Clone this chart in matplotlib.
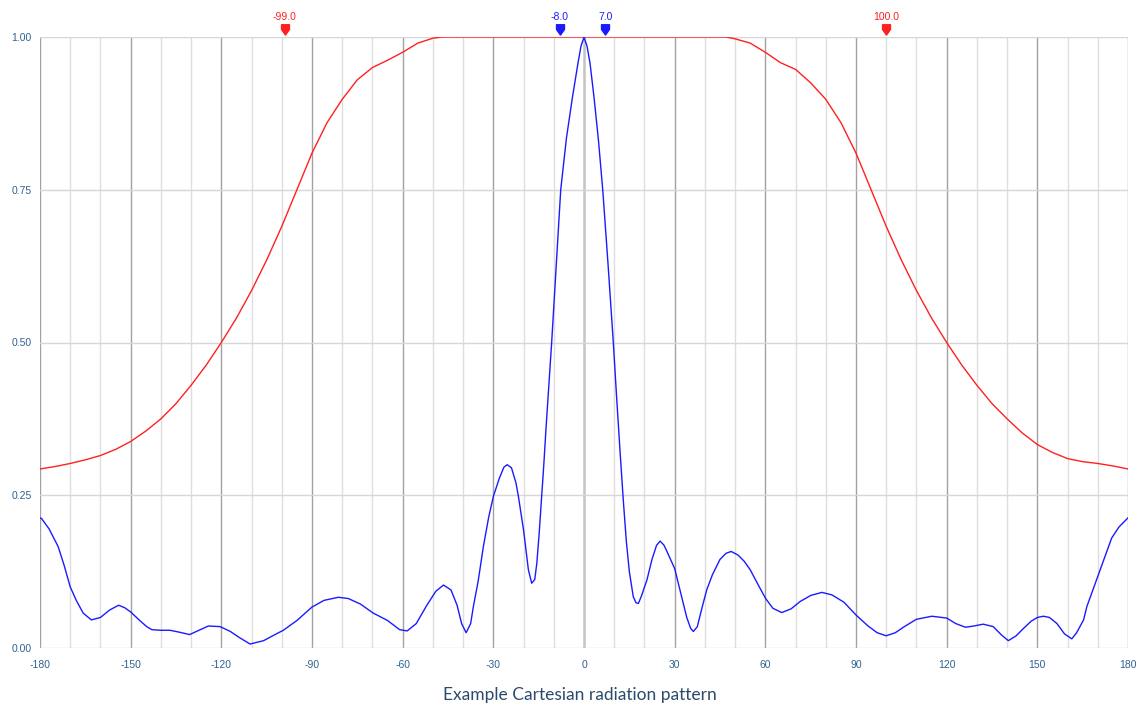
import matplotlib
matplotlib.use("Agg")
import matplotlib.pyplot as plt
from matplotlib.path import Path
from matplotlib.transforms import blended_transform_factory

# ---- data ----
blue_angle = [-180, -179.5, -177, -174, -172, -170, -168, -165.7, -163, -160, -157, -154, -152, -150,
              -147, -144.7, -143, -140, -137, -134, -130.5, -127, -124.3, -120.4, -117, -114, -110.5,
              -106, -103, -99.5, -95, -90, -86, -81.3, -78, -74, -69.7, -65, -61, -58.5, -55.5, -52,
              -49, -46.5, -44, -42, -40.5, -39, -37.5, -36.6, -35, -33.3, -31.5, -30, -28, -26.5,
              -25.4, -24, -22.5, -21.7, -20, -18.4, -17.3, -16.3, -15.6, -14.8, -14, -13.3, -12.6,
              -10.7, -9.2, -7.7, -5.8, -3.8, -2.0, -1.0, 0, 1.0, 2.0, 3.3, 4.8, 6.2, 8.0, 9.7, 10.8,
              11.9, 13.0, 14.0, 15.0, 16.3, 17.2, 18.0, 19.0, 20.8, 22.5, 24.0, 25.2, 26.5, 28.0,
              30.0, 32.0, 34.0, 35.3, 36.2, 37.5, 39.0, 40.6, 42.5, 45.0, 47.0, 48.7, 51.0, 53.0,
              55.0, 58.0, 60.1, 62.5, 65.4, 68.5, 71.5, 75.0, 78.7, 82.0, 86.0, 90.0, 94.0, 97.0,
              100.0, 103.0, 106.0, 110.0, 115.1, 120.0, 123.0, 126.2, 129.0, 132.1, 135.4, 138.0,
              140.4, 143.0, 145.4, 148.0, 150.0, 152.0, 154.0, 156.5, 159.0, 161.4, 163.0, 165.3,
              166.4, 168.0, 170.0, 172.4, 174.6, 177.0, 179.6, 180.0]
blue_value = [0.213, 0.212, 0.195, 0.166, 0.135, 0.100, 0.078, 0.057, 0.046, 0.050, 0.062, 0.070, 0.066,
              0.059, 0.045, 0.035, 0.030, 0.029, 0.029, 0.026, 0.022, 0.030, 0.036, 0.035, 0.027, 0.017,
              0.0065, 0.012, 0.020, 0.029, 0.045, 0.067, 0.078, 0.083, 0.081, 0.072, 0.057, 0.045, 0.030,
              0.028, 0.040, 0.070, 0.093, 0.103, 0.095, 0.070, 0.040, 0.025, 0.040, 0.068, 0.110, 0.166,
              0.215, 0.248, 0.278, 0.296, 0.300, 0.295, 0.270, 0.248, 0.193, 0.128, 0.106, 0.112, 0.139,
              0.190, 0.248, 0.300, 0.357, 0.500, 0.625, 0.750, 0.835, 0.902, 0.957, 0.985, 1.0, 0.985,
              0.957, 0.902, 0.830, 0.750, 0.625, 0.500, 0.410, 0.324, 0.242, 0.175, 0.125, 0.084, 0.074,
              0.073, 0.085, 0.111, 0.145, 0.168, 0.175, 0.168, 0.152, 0.130, 0.090, 0.050, 0.032, 0.027,
              0.035, 0.065, 0.095, 0.120, 0.145, 0.155, 0.158, 0.152, 0.142, 0.128, 0.100, 0.081, 0.065,
              0.058, 0.064, 0.076, 0.086, 0.091, 0.087, 0.075, 0.054, 0.036, 0.025, 0.020, 0.025, 0.035,
              0.047, 0.052, 0.049, 0.040, 0.034, 0.036, 0.039, 0.035, 0.022, 0.012, 0.020, 0.032, 0.044,
              0.050, 0.052, 0.050, 0.040, 0.023, 0.015, 0.025, 0.046, 0.068, 0.090, 0.117, 0.150, 0.180,
              0.198, 0.211, 0.213]

red_angle = [-180, -175, -170, -165, -160, -155, -150, -145, -140, -135, -130, -125, -120, -115, -110,
             -105, -100, -95, -90, -85, -80, -75, -70, -65, -60, -55, -50, -47, -45, 0, 45, 47, 50, 55,
             60, 65, 70, 75, 80, 85, 90, 95, 100, 105, 110, 115, 120, 125, 130, 135, 140, 145, 150,
             155, 160, 165, 170, 175, 180]
red_value = [0.293, 0.297, 0.302, 0.308, 0.315, 0.325, 0.338, 0.355, 0.375, 0.400, 0.430, 0.463, 0.500,
             0.540, 0.585, 0.635, 0.690, 0.750, 0.810, 0.860, 0.898, 0.930, 0.950, 0.962, 0.975, 0.990,
             0.998, 1.0, 1.0, 1.0, 1.0, 1.0, 0.997, 0.990, 0.975, 0.958, 0.947, 0.925, 0.898, 0.860,
             0.810, 0.750, 0.690, 0.635, 0.585, 0.540, 0.500, 0.463, 0.430, 0.400, 0.375, 0.352, 0.333,
             0.320, 0.310, 0.305, 0.302, 0.298, 0.293]

red_markers = [-99.0, 100.0]
blue_markers = [-8.0, 7.0]
x_ticks = [-180, -150, -120, -90, -60, -30, 0, 30, 60, 90, 120, 150, 180]
y_ticks = [0.0, 0.25, 0.5, 0.75, 1.0]
title = "Example Cartesian radiation pattern"

RED = "#ff2020"
BLUE = "#1a1aff"
TICK_COLOR = "#2f6190"

W, H = 1137, 709
fig = plt.figure(figsize=(W / 100, H / 100), dpi=100)
ax = fig.add_axes([40 / W, 1 - 648 / H, (1128 - 40) / W, (648 - 37) / H])
ax.set_xlim(-180, 180)
ax.set_ylim(0, 1)

# grid
for x in range(-180, 181, 10):
    if x == 0:
        ax.axvline(x, color="#c4c4c4", lw=1.8, zorder=1)
    elif x % 30 == 0:
        ax.axvline(x, color="#a2a2a2", lw=1.0, zorder=1)
    else:
        ax.axvline(x, color="#dedede", lw=1.0, zorder=1)
for y in y_ticks:
    ax.axhline(y, color="#d6d6d6", lw=1.0, zorder=1)

for s in ax.spines.values():
    s.set_visible(False)

ax.plot(red_angle, red_value, color=RED, lw=1.0, zorder=3)
ax.plot(blue_angle, blue_value, color=BLUE, lw=1.0, zorder=4)

ax.set_xticks(x_ticks)
ax.set_xticklabels([str(t) for t in x_ticks])
ax.set_yticks(y_ticks)
ax.set_yticklabels([f"{t:.2f}" for t in y_ticks])
ax.tick_params(length=0, labelsize=7.5, labelcolor=TICK_COLOR, pad=9)
ax.tick_params(axis="y", pad=6)
for lbl in ax.get_xticklabels() + ax.get_yticklabels():
    lbl.set_fontfamily("Liberation Sans")

# pin markers
pin = Path([(-0.5, 0.6), (0.5, 0.6), (0.5, 0.0), (0.0, -0.7), (-0.5, 0.0), (-0.5, 0.6)],
           [Path.MOVETO, Path.LINETO, Path.LINETO, Path.LINETO, Path.LINETO, Path.CLOSEPOLY])
tr = blended_transform_factory(ax.transData, ax.transAxes)
for vals, col in ((red_markers, RED), (blue_markers, BLUE)):
    for v in vals:
        ax.plot([v], [1.0125], marker=pin, markersize=8, color=col, transform=tr,
                clip_on=False, zorder=6, linestyle="none")
        ax.text(v, 1.033, f"{v:.1f}", color=col, transform=tr, ha="center", va="center",
                fontsize=7.5, family="Liberation Sans", clip_on=False)

fig.text(580 / W, 1 - 695 / H, title, ha="center", va="center", fontsize=12.5,
         family="Lato", color="#2b4a6b")

fig.savefig("out.png", dpi=100)
